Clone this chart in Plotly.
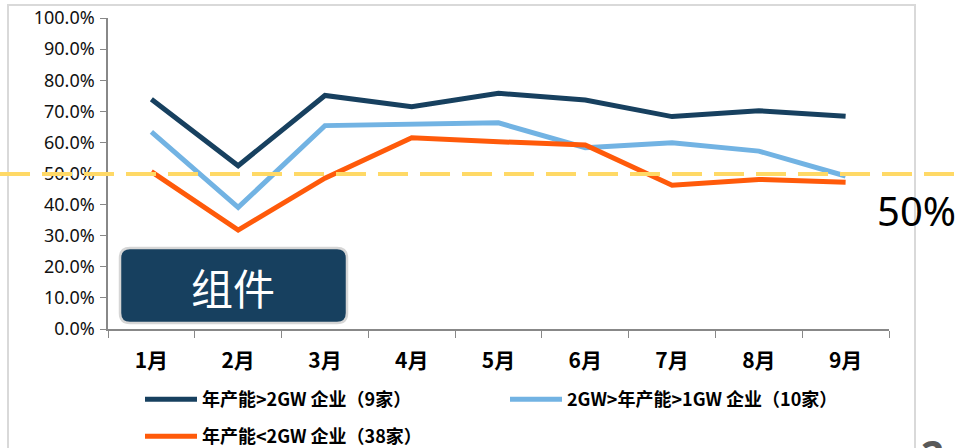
import plotly.graph_objects as go

months = ["1月", "2月", "3月", "4月", "5月", "6月", "7月", "8月", "9月"]
big = [0.739, 0.525, 0.751, 0.715, 0.758, 0.736, 0.683, 0.702, 0.684]
mid = [0.634, 0.391, 0.654, 0.660, 0.663, 0.583, 0.599, 0.572, 0.492]
small = [0.506, 0.318, 0.485, 0.615, 0.602, 0.592, 0.462, 0.481, 0.472]
names = ["年产能>2GW 企业（9家）", "2GW>年产能>1GW 企业（10家）", "年产能<2GW 企业（38家）"]
colors = ["#17405F", "#72B3E3", "#FF5A0A"]
ref_level = 0.498

W, H = 963, 448
L, R, T, B = 108, 74, 18, 119
pw, ph = W - L - R, H - T - B

def px(x):
    return (x - L) / pw

def py(y):
    return (H - B - y) / ph

cjk = "Noto Sans CJK SC"
fig = go.Figure()
series = [big, mid, small]
legends = ["legend", "legend2", "legend3"]
leg_pos = [(140, 381), (505, 381), (140, 418)]
for vals, nm, c, lg in zip(series, names, colors, legends):
    fig.add_trace(go.Scatter(x=months, y=vals, name=nm, mode="lines",
                             line=dict(color=c, width=5), legend=lg))

leg_common = dict(orientation="h", xanchor="left", yanchor="top",
                  font=dict(family=cjk, size=18, color="black", weight="bold"),
                  bgcolor="rgba(0,0,0,0)", itemwidth=52)
fig.update_layout(
    width=W, height=H,
    margin=dict(l=L, r=R, t=T, b=B, autoexpand=False),
    paper_bgcolor="white", plot_bgcolor="white",
    showlegend=True,
    xaxis=dict(type="category", range=[-0.5, 8.5], showline=True, linecolor="#888888",
               linewidth=1.5, ticks="outside", ticklen=7, tickcolor="#888888",
               tickson="boundaries", showgrid=False, zeroline=False, automargin=False,
               tickfont=dict(family=cjk, size=21, color="black", weight="bold"),
               ticklabelstandoff=12),
    yaxis=dict(range=[0, 1], dtick=0.1, tickformat=".1%", showline=True,
               linecolor="#888888", linewidth=1.5, ticks="outside", ticklen=6,
               tickcolor="#888888", showgrid=False, zeroline=False, automargin=False,
               tickfont=dict(family="Noto Sans", size=18, color="#111111"),
               ticklabelstandoff=2),
)
for lg, (lx, ly) in zip(legends, leg_pos):
    fig.update_layout({lg: dict(leg_common, x=px(lx), y=py(ly))})

# outer chart border
fig.add_shape(type="rect", xref="paper", yref="paper",
              x0=px(8), x1=px(915), y0=py(470), y1=py(5),
              line=dict(color="#D9D9D9", width=2), layer="below")

# 50% reference dashed line
fig.add_shape(type="line", xref="paper", yref="y", x0=px(0), x1=px(963),
              y0=ref_level, y1=ref_level,
              line=dict(color="#FFD966", width=4, dash="30px,12px"), layer="above")

fig.add_annotation(text="50%", xref="paper", yref="paper", x=px(917), y=py(210),
                   xanchor="center", yanchor="middle",
                   showarrow=False, font=dict(family="Noto Sans", size=40, color="black"))

# label box
x0, x1, y0, y1 = px(120), px(347), py(323), py(248)
rx, ry = 10 / pw, 10 / ph
path = (f"M {x0+rx},{y0} L {x1-rx},{y0} Q {x1},{y0} {x1},{y0+ry} "
        f"L {x1},{y1-ry} Q {x1},{y1} {x1-rx},{y1} L {x0+rx},{y1} "
        f"Q {x0},{y1} {x0},{y1-ry} L {x0},{y0+ry} Q {x0},{y0} {x0+rx},{y0} Z")
fig.add_shape(type="path", path=path, xref="paper", yref="paper",
              fillcolor="#17405F", line=dict(color="#D6D6D6", width=2.5), layer="above")
fig.add_annotation(text="组件", xref="paper", yref="paper", x=px(233), y=py(286),
                   xanchor="center", yanchor="middle",
                   showarrow=False, font=dict(family=cjk, size=42, color="white"))

fig.add_annotation(text="2", xref="paper", yref="paper", x=px(933), y=py(424),
                   xanchor="center", yanchor="top", showarrow=False,
                   font=dict(family="Noto Sans", size=40, color="#595959", weight="bold"))

fig.write_html("out.html", config={"displayModeBar": False},
               post_script="document.body.style.margin='0';document.body.style.overflow='hidden';")
